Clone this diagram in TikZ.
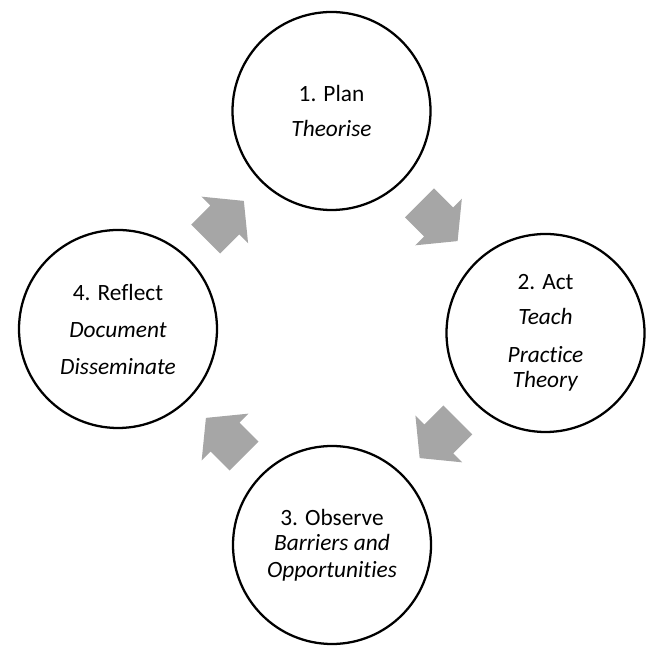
\documentclass[tikz,border=0pt]{standalone}
\usepackage{fontspec}
\setmainfont[Ligatures=NoCommon]{Carlito}
\usetikzlibrary{calc}
\definecolor{ArrowClr}{rgb}{0.65,0.65,0.65}

\begin{document}
\begin{tikzpicture}[x=0.75pt,y=0.75pt,
  stage/.style={circle,draw=black,line width=1.7pt,minimum size=148.5pt,inner sep=0pt,
    align=center,font=\fontsize{17.5}{21}\selectfont},
  blockarrow/.pic={\fill[ArrowClr] (-27,20.5) -- (0,20.5) -- (0,33) -- (27,0)
    -- (0,-33) -- (0,-20.5) -- (-27,-20.5) -- cycle;}]
\useasboundingbox (0,0) rectangle (646,646);

\node[stage] (plan) at (331.5,535) {1. Plan\\[5.25pt]\textit{Theorise}};
\node[stage] (act) at (545.5,313) {2. Act\\[5.25pt]\textit{Teach}\\[7.5pt]\textit{Practice}\\[-2.25pt]\textit{Theory}};
\node[stage] (observe) at (332,101) {3. Observe\\[-2.25pt]\textit{Barriers and}\\[-0.75pt]\textit{Opportunities}};
\node[stage] (reflect) at (118,317) {4. Reflect\\[6.75pt]\textit{Document}\\[6.75pt]\textit{Disseminate}};

% arrows between the stages
\pic[rotate=-45] at ($(plan)!.5!(act)$) {blockarrow};
\pic[rotate=-135] at ($(act)!.5!(observe)$) {blockarrow};
\pic[rotate=135] at ($(observe)!.5!(reflect)$) {blockarrow};
\pic[rotate=45] at ($(reflect)!.5!(plan)$) {blockarrow};
\end{tikzpicture}
\end{document}
